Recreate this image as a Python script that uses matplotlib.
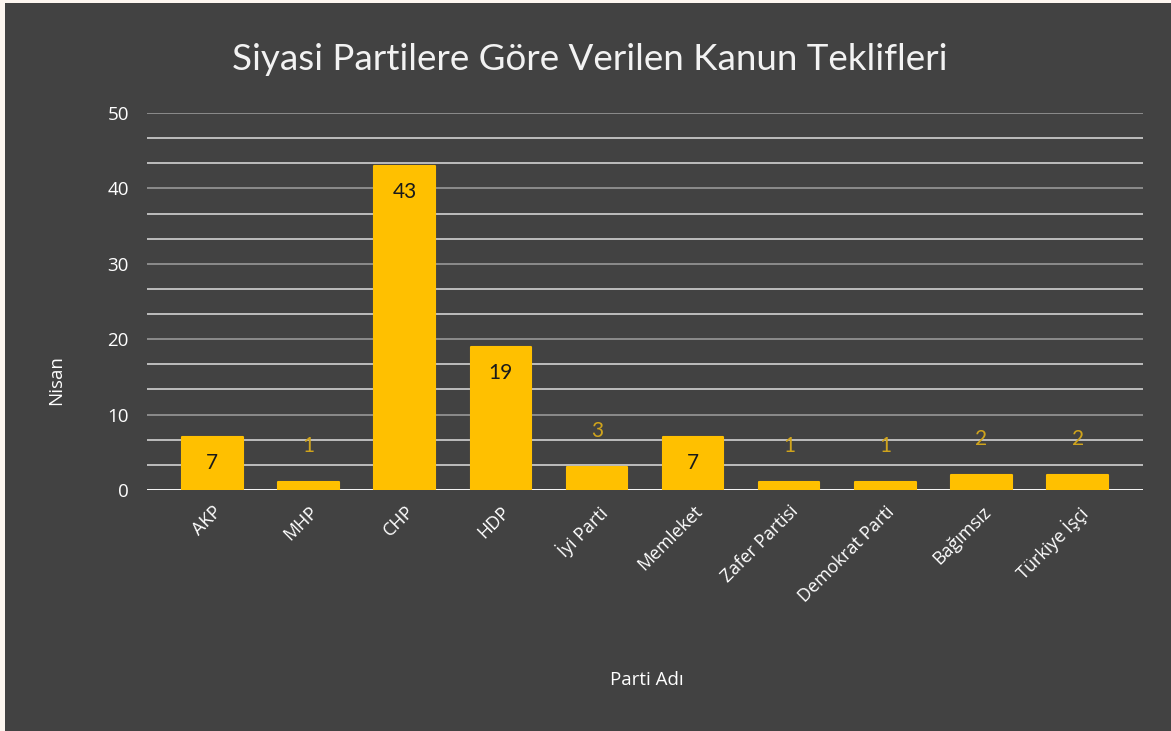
import matplotlib.pyplot as plt
from matplotlib.patches import Rectangle
import numpy as np

parties = ['AKP', 'MHP', 'CHP', 'HDP', 'İyi Parti', 'Memleket', 'Zafer Partisi',
           'Demokrat Parti', 'Bağımsız', 'Türkiye İşçi']
counts = [7, 1, 43, 19, 3, 7, 1, 1, 2, 2]
major_ticks = [0, 10, 20, 30, 40, 50]

bg = '#424242'
gold = '#FFC000'

plt.rcParams['font.family'] = ['Open Sans', 'DejaVu Sans']

fig = plt.figure(figsize=(11.71, 7.31), dpi=100, facecolor='#fdf6f0')
fig.patches.append(Rectangle((5 / 1171, 0), 1, 1 - 3 / 731, transform=fig.transFigure,
                             facecolor=bg, edgecolor='none', zorder=-5))

ax = fig.add_axes([147 / 1171, 1 - 490 / 731, (1143 - 147) / 1171, (490 - 113) / 731])
ax.set_facecolor(bg)

x = np.arange(len(parties))
bars = ax.bar(x, counts, width=0.63, color=gold, edgecolor=gold, linewidth=1.5,
              joinstyle='round', zorder=3)

ax.set_xlim(-0.68, len(parties) - 1 + 0.68)
ax.set_ylim(0, 50)

# minor gridlines every 10/3, major every 10
minor = [m * 10 / 3 for m in range(16) if m % 3 != 0]
ax.set_yticks(major_ticks)
ax.set_yticks(minor, minor=True)
ax.grid(axis='y', which='major', color='#8c8c8c', linewidth=1.4, zorder=1)
ax.grid(axis='y', which='minor', color='#bdbdbd', linewidth=1.4, zorder=1)
ax.axhline(0, color='white', linewidth=2, zorder=2)

for s in ax.spines.values():
    s.set_visible(False)
ax.tick_params(axis='both', which='both', length=0)
ax.tick_params(axis='y', colors='white', labelsize=13.5, pad=13)
ax.set_xticks(x)
ax.set_xticklabels(parties, rotation=45, ha='right', rotation_mode='anchor',
                   color='white', fontsize=13)
ax.tick_params(axis='x', pad=9)

for b, v in zip(bars, counts):
    cx = b.get_x() + b.get_width() / 2
    if v >= 5:
        ax.annotate(str(v), (cx, v), xytext=(0, -26), textcoords='offset pixels',
                    ha='center', va='center', color='#1a1a1a', fontsize=15,
                    family=['Lato', 'DejaVu Sans'], zorder=4)
    else:
        ax.annotate(str(v), (cx, v), xytext=(0, 36), textcoords='offset pixels',
                    ha='center', va='center', color='#d0a41c', fontsize=15,
                    family=['Lato', 'DejaVu Sans'], zorder=4)

fig.text(590 / 1171, 1 - 60 / 731, 'Siyasi Partilere Göre Verilen Kanun Teklifleri',
         ha='center', va='center', color='#f2f2f2', fontsize=26.5, family=['Lato', 'DejaVu Sans'])
fig.text(647 / 1171, 1 - 680 / 731, 'Parti Adı', ha='center', va='center',
         color='white', fontsize=13.5)
fig.text(56 / 1171, 1 - 380 / 731, 'Nisan', ha='center', va='center', rotation=90,
         color='white', fontsize=13.5)

fig.savefig('out.png', dpi=100, facecolor=fig.get_facecolor())
